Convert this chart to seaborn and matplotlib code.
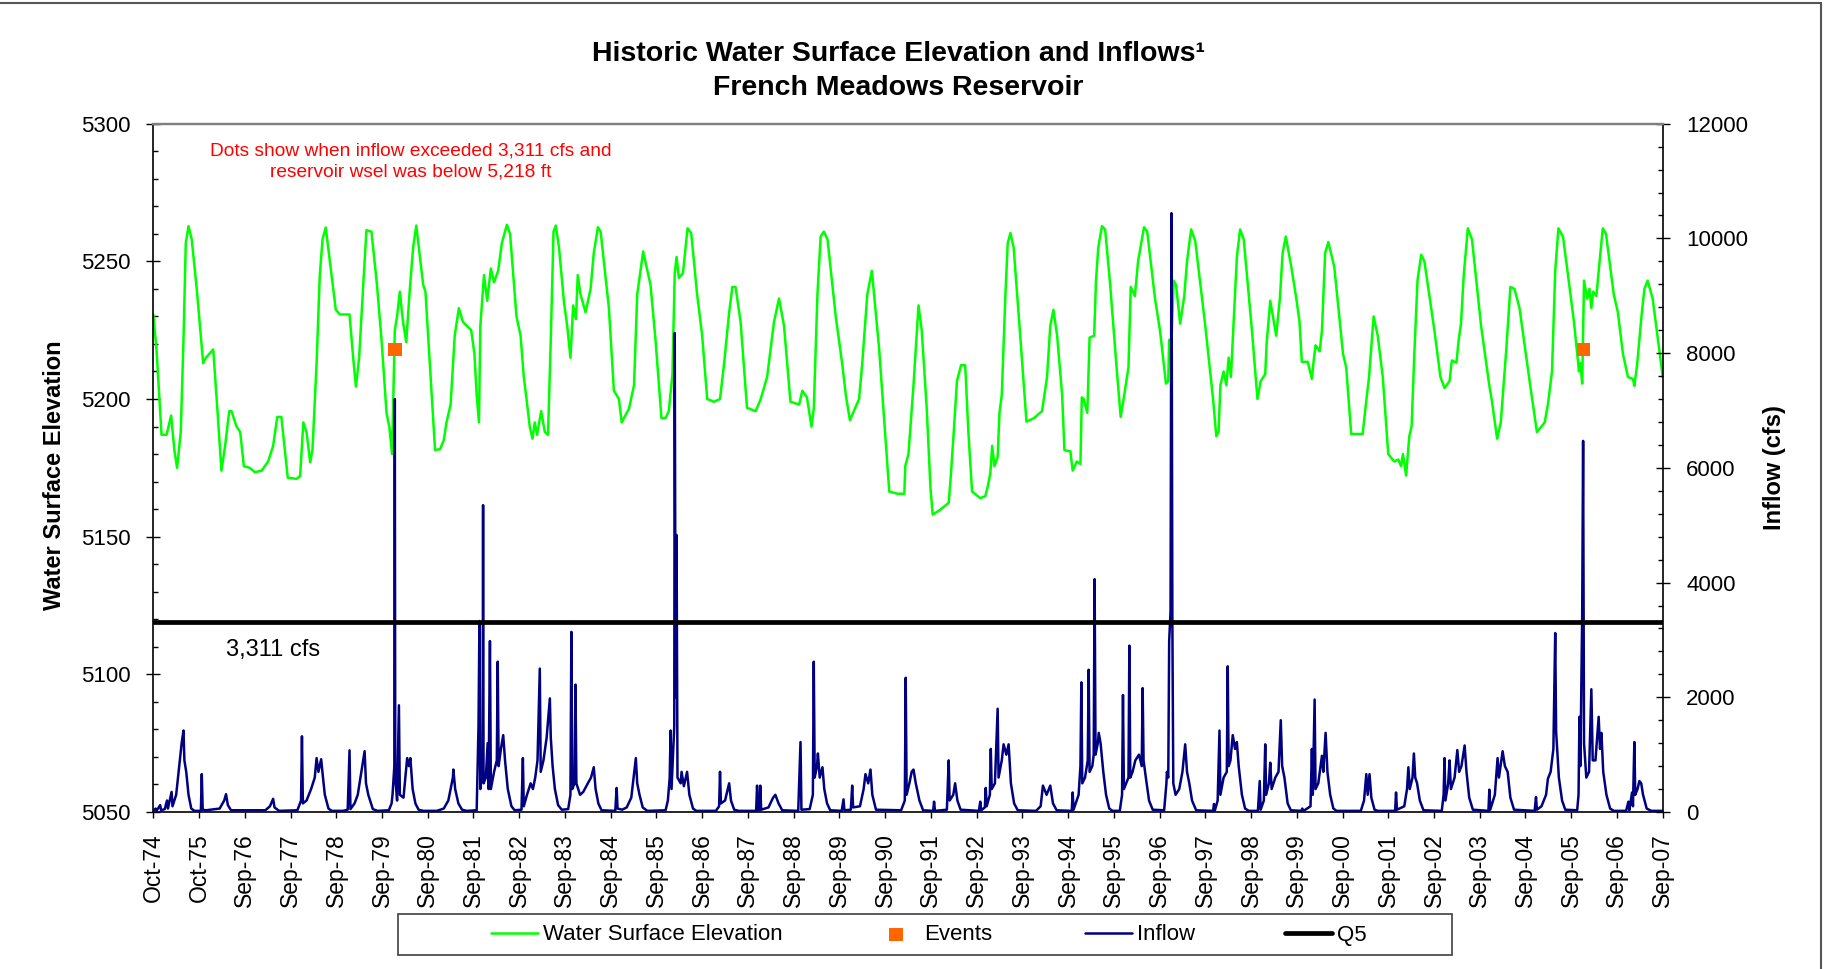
import numpy as np
import pandas as pd
import matplotlib
matplotlib.use("Agg")
import matplotlib.pyplot as plt
import matplotlib.ticker as mticker
from matplotlib.patches import Rectangle
import seaborn as sns

# water surface elevation (ft); x is decimal year on the Excel axis
wse_year = [
    1974.75, 1974.82, 1974.93, 1975.04, 1975.14, 1975.21, 1975.27, 1975.35, 1975.41, 1975.46,
    1975.52, 1975.59, 1975.70, 1975.84, 1975.90, 1976.06, 1976.15, 1976.24, 1976.32, 1976.41,
    1976.46, 1976.57, 1976.65, 1976.73, 1976.86, 1976.97, 1977.12, 1977.26, 1977.37, 1977.46,
    1977.55, 1977.69, 1977.88, 1977.96, 1978.03, 1978.10, 1978.18, 1978.23, 1978.32, 1978.39,
    1978.45, 1978.52, 1978.61, 1978.74, 1978.83, 1979.04, 1979.12, 1979.18, 1979.25, 1979.34,
    1979.41, 1979.52, 1979.64, 1979.74, 1979.85, 1979.91, 1979.97, 1980.03, 1980.08, 1980.14,
    1980.21, 1980.28, 1980.35, 1980.43, 1980.50, 1980.58, 1980.65, 1980.70, 1980.80, 1980.91,
    1981.02, 1981.10, 1981.16, 1981.25, 1981.34, 1981.43, 1981.52, 1981.70, 1981.77, 1981.82,
    1981.87, 1981.90, 1981.98, 1982.05, 1982.13, 1982.20, 1982.29, 1982.37, 1982.48, 1982.55,
    1982.69, 1982.78, 1982.85, 1982.91, 1982.98, 1983.04, 1983.09, 1983.14, 1983.23, 1983.31,
    1983.38, 1983.44, 1983.50, 1983.55, 1983.62, 1983.73, 1983.80, 1983.87, 1983.93, 1983.99,
    1984.03, 1984.09, 1984.20, 1984.31, 1984.38, 1984.47, 1984.53, 1984.71, 1984.82, 1984.93,
    1984.99, 1985.15, 1985.26, 1985.33, 1985.46, 1985.62, 1985.73, 1985.86, 1985.95, 1986.02,
    1986.10, 1986.15, 1986.19, 1986.24, 1986.33, 1986.43, 1986.51, 1986.64, 1986.75, 1986.86,
    1987.01, 1987.14, 1987.23, 1987.34, 1987.41, 1987.48, 1987.59, 1987.73, 1987.92, 1988.03,
    1988.17, 1988.32, 1988.43, 1988.54, 1988.68, 1988.87, 1988.94, 1989.04, 1989.14, 1989.19,
    1989.27, 1989.34, 1989.41, 1989.49, 1989.67, 1989.81, 1989.89, 1989.98, 1990.18, 1990.25,
    1990.36, 1990.46, 1990.62, 1990.76, 1990.84, 1991.02, 1991.17, 1991.19, 1991.26, 1991.37,
    1991.48, 1991.55, 1991.66, 1991.74, 1991.79, 1991.95, 1992.14, 1992.19, 1992.25, 1992.32,
    1992.41, 1992.50, 1992.57, 1992.65, 1992.83, 1992.94, 1992.99, 1993.05, 1993.09, 1993.14,
    1993.21, 1993.25, 1993.30, 1993.38, 1993.43, 1993.49, 1993.56, 1993.71, 1993.84, 1994.00,
    1994.18, 1994.29, 1994.36, 1994.43, 1994.51, 1994.62, 1994.67, 1994.80, 1994.85, 1994.94,
    1995.02, 1995.05, 1995.09, 1995.17, 1995.22, 1995.32, 1995.36, 1995.41, 1995.49, 1995.56,
    1995.67, 1995.81, 1995.90, 1995.97, 1996.07, 1996.12, 1996.21, 1996.28, 1996.41, 1996.48,
    1996.65, 1996.76, 1996.89, 1996.94, 1996.96, 1997.01, 1997.06, 1997.11, 1997.20, 1997.29,
    1997.35, 1997.44, 1997.53, 1997.75, 1997.92, 1997.99, 1998.04, 1998.08, 1998.15, 1998.21,
    1998.26, 1998.31, 1998.37, 1998.44, 1998.51, 1998.59, 1998.77, 1998.89, 1998.96, 1999.06,
    1999.09, 1999.17, 1999.30, 1999.38, 1999.44, 1999.51, 1999.63, 1999.74, 1999.81, 1999.86,
    1999.99, 2000.08, 2000.12, 2000.16, 2000.25, 2000.30, 2000.37, 2000.44, 2000.57, 2000.76,
    2000.83, 2000.94, 2001.19, 2001.26, 2001.33, 2001.43, 2001.52, 2001.63, 2001.75, 2001.88,
    2001.97, 2002.03, 2002.07, 2002.14, 2002.21, 2002.26, 2002.32, 2002.39, 2002.47, 2002.54,
    2002.76, 2002.89, 2002.98, 2003.09, 2003.14, 2003.24, 2003.29, 2003.34, 2003.40, 2003.49,
    2003.58, 2003.78, 2003.96, 2004.01, 2004.13, 2004.21, 2004.33, 2004.42, 2004.51, 2004.62,
    2004.84, 2005.00, 2005.17, 2005.24, 2005.33, 2005.40, 2005.47, 2005.57, 2005.68, 2005.81,
    2005.92, 2005.95, 2005.99, 2006.03, 2006.10, 2006.15, 2006.19, 2006.23, 2006.30, 2006.37,
    2006.44, 2006.51, 2006.68, 2006.77, 2006.88, 2006.99, 2007.10, 2007.13, 2007.19, 2007.28,
    2007.35, 2007.42, 2007.53, 2007.68, 2007.75,
]
wse_ft = [
    5230.7, 5218.0, 5187.0, 5187.0, 5194.0, 5181.5, 5175.0, 5188.0, 5221.5, 5256.6,
    5262.8, 5258.0, 5240.0, 5213.0, 5215.0, 5218.0, 5196.5, 5174.0, 5183.0, 5195.6,
    5195.6, 5190.0, 5188.0, 5175.6, 5175.0, 5173.4, 5174.0, 5177.3, 5183.0, 5193.5,
    5193.5, 5171.4, 5171.0, 5172.0, 5191.5, 5188.0, 5177.0, 5181.5, 5213.0, 5245.0,
    5258.0, 5262.3, 5250.0, 5232.4, 5230.7, 5230.7, 5215.0, 5204.5, 5215.0, 5241.5,
    5261.3, 5260.8, 5241.5, 5221.5, 5194.8, 5190.0, 5180.0, 5225.0, 5230.0, 5239.0,
    5228.0, 5220.7, 5238.0, 5255.0, 5263.0, 5251.6, 5241.5, 5239.0, 5211.5, 5181.5,
    5181.8, 5185.0, 5191.5, 5198.0, 5223.0, 5233.0, 5228.0, 5225.0, 5216.5, 5201.5,
    5191.5, 5226.5, 5245.0, 5235.7, 5247.4, 5242.4, 5246.6, 5256.6, 5263.3, 5260.0,
    5230.0, 5223.0, 5208.0, 5200.0, 5190.0, 5185.6, 5191.5, 5187.0, 5195.6, 5188.0,
    5187.0, 5221.5, 5260.8, 5263.0, 5255.0, 5235.0, 5226.5, 5215.0, 5234.0, 5229.0,
    5245.0, 5238.0, 5231.5, 5240.0, 5253.0, 5262.4, 5260.8, 5233.2, 5203.0, 5200.0,
    5191.5, 5196.5, 5205.0, 5238.0, 5253.6, 5241.5, 5221.5, 5193.0, 5193.1, 5195.6,
    5209.0, 5245.7, 5251.6, 5244.0, 5245.7, 5262.0, 5260.3, 5238.0, 5223.0, 5200.0,
    5199.0, 5200.0, 5213.0, 5231.5, 5240.7, 5240.7, 5228.0, 5196.8, 5195.6, 5200.0,
    5208.0, 5228.0, 5236.5, 5226.5, 5199.0, 5198.0, 5203.0, 5200.6, 5190.0, 5196.5,
    5238.0, 5259.0, 5260.8, 5258.0, 5230.0, 5213.0, 5201.5, 5192.3, 5200.0, 5213.0,
    5238.0, 5246.6, 5218.0, 5184.8, 5166.4, 5165.6, 5165.6, 5175.6, 5180.0, 5205.0,
    5234.0, 5225.0, 5196.5, 5168.0, 5158.0, 5159.7, 5162.3, 5173.0, 5188.0, 5206.5,
    5212.3, 5212.3, 5188.0, 5166.4, 5164.0, 5164.7, 5168.0, 5173.0, 5183.0, 5175.6,
    5179.0, 5195.0, 5201.5, 5238.0, 5256.6, 5260.3, 5255.0, 5221.5, 5191.8, 5193.0,
    5195.6, 5208.0, 5226.5, 5232.4, 5223.0, 5201.5, 5181.4, 5181.0, 5174.0, 5177.3,
    5176.4, 5200.6, 5200.0, 5195.0, 5222.3, 5223.0, 5243.0, 5255.0, 5262.8, 5261.6,
    5241.5, 5211.5, 5193.5, 5200.6, 5211.5, 5240.7, 5237.4, 5250.0, 5262.4, 5260.8,
    5236.5, 5224.8, 5205.6, 5206.5, 5221.5, 5221.5, 5243.0, 5241.5, 5227.4, 5237.4,
    5250.0, 5261.6, 5257.4, 5226.5, 5200.0, 5186.5, 5188.0, 5205.0, 5210.0, 5205.0,
    5215.0, 5208.0, 5228.0, 5251.6, 5261.6, 5258.0, 5224.8, 5200.0, 5206.5, 5209.0,
    5220.0, 5235.7, 5223.0, 5236.5, 5253.0, 5259.0, 5248.0, 5236.5, 5228.0, 5213.5,
    5213.5, 5207.3, 5214.0, 5219.5, 5217.3, 5224.8, 5253.0, 5257.0, 5248.0, 5216.5,
    5211.5, 5187.3, 5187.3, 5198.0, 5208.0, 5230.0, 5223.0, 5208.0, 5180.0, 5177.3,
    5178.0, 5175.6, 5180.0, 5172.2, 5186.5, 5190.0, 5216.5, 5243.2, 5252.4, 5250.0,
    5224.8, 5208.0, 5204.0, 5206.5, 5214.0, 5213.2, 5221.5, 5227.4, 5245.0, 5262.0,
    5258.0, 5226.5, 5204.8, 5200.0, 5185.6, 5191.5, 5218.0, 5240.7, 5240.0, 5233.0,
    5206.5, 5188.0, 5191.5, 5198.0, 5210.0, 5246.6, 5262.0, 5259.0, 5245.0, 5228.0,
    5210.0, 5213.0, 5205.6, 5243.0, 5236.5, 5240.0, 5233.0, 5239.0, 5237.4, 5250.0,
    5262.0, 5260.0, 5238.0, 5231.5, 5216.5, 5208.0, 5207.3, 5204.8, 5212.3, 5229.0,
    5240.0, 5243.0, 5236.5, 5217.3, 5208.0,
]

# inflow (cfs), peaks and low points
inflow_year = [
    1974.75, 1974.80, 1974.82, 1974.90, 1974.92, 1975.00, 1975.05, 1975.07, 1975.15, 1975.17,
    1975.25, 1975.33, 1975.37, 1975.41, 1975.43, 1975.47, 1975.52, 1975.58, 1975.65, 1975.79,
    1975.81, 1975.83, 1975.90, 1976.20, 1976.30, 1976.34, 1976.38, 1976.45, 1977.20, 1977.30,
    1977.37, 1977.40, 1977.50, 1977.90, 1977.98, 1978.00, 1978.02, 1978.10, 1978.20, 1978.28,
    1978.32, 1978.36, 1978.42, 1978.46, 1978.50, 1978.58, 1978.65, 1978.90, 1979.00, 1979.04,
    1979.06, 1979.15, 1979.22, 1979.30, 1979.37, 1979.40, 1979.45, 1979.55, 1979.65, 1979.90,
    1979.96, 1979.98, 1980.02, 1980.03, 1980.04, 1980.08, 1980.12, 1980.14, 1980.22, 1980.30,
    1980.34, 1980.37, 1980.42, 1980.48, 1980.55, 1980.65, 1980.95, 1981.10, 1981.20, 1981.30,
    1981.31, 1981.35, 1981.42, 1981.50, 1981.60, 1981.82, 1981.86, 1981.88, 1981.90, 1981.95,
    1981.96, 1981.97, 1982.02, 1982.06, 1982.08, 1982.11, 1982.13, 1982.20, 1982.26, 1982.28,
    1982.30, 1982.35, 1982.40, 1982.44, 1982.50, 1982.58, 1982.65, 1982.80, 1982.83, 1982.85,
    1982.92, 1983.00, 1983.05, 1983.10, 1983.15, 1983.20, 1983.22, 1983.28, 1983.35, 1983.42,
    1983.44, 1983.48, 1983.53, 1983.60, 1983.68, 1983.82, 1983.87, 1983.89, 1983.91, 1983.96,
    1983.98, 1984.00, 1984.08, 1984.15, 1984.25, 1984.32, 1984.38, 1984.42, 1984.48, 1984.55,
    1984.85, 1984.88, 1984.90, 1985.00, 1985.10, 1985.20, 1985.30, 1985.33, 1985.38, 1985.45,
    1985.55, 1985.95, 1986.00, 1986.04, 1986.06, 1986.08, 1986.14, 1986.15, 1986.17, 1986.19,
    1986.21, 1986.28, 1986.30, 1986.35, 1986.42, 1986.47, 1986.55, 1986.62, 1987.05, 1987.12,
    1987.14, 1987.16, 1987.25, 1987.34, 1987.38, 1987.45, 1987.55, 1987.93, 1987.95, 1987.97,
    1988.00, 1988.02, 1988.04, 1988.20, 1988.30, 1988.35, 1988.42, 1988.50, 1988.85, 1988.90,
    1988.92, 1989.10, 1989.17, 1989.19, 1989.21, 1989.26, 1989.28, 1989.32, 1989.38, 1989.42,
    1989.48, 1989.55, 1989.80, 1989.84, 1989.86, 1990.00, 1990.03, 1990.05, 1990.20, 1990.28,
    1990.32, 1990.38, 1990.43, 1990.47, 1990.55, 1991.10, 1991.18, 1991.20, 1991.22, 1991.28,
    1991.33, 1991.37, 1991.42, 1991.50, 1991.58, 1991.80, 1991.82, 1991.84, 1992.10, 1992.14,
    1992.16, 1992.24, 1992.28, 1992.33, 1992.40, 1992.80, 1992.83, 1992.85, 1992.93, 1992.95,
    1992.97, 1993.04, 1993.06, 1993.08, 1993.15, 1993.21, 1993.23, 1993.30, 1993.34, 1993.40,
    1993.45, 1993.50, 1993.57, 1993.65, 1994.05, 1994.15, 1994.20, 1994.28, 1994.36, 1994.42,
    1994.50, 1994.83, 1994.85, 1994.87, 1994.98, 1995.02, 1995.04, 1995.06, 1995.12, 1995.18,
    1995.20, 1995.22, 1995.28, 1995.31, 1995.33, 1995.35, 1995.40, 1995.42, 1995.46, 1995.52,
    1995.58, 1995.65, 1995.72, 1995.88, 1995.93, 1995.95, 1995.97, 1996.02, 1996.07, 1996.09,
    1996.11, 1996.16, 1996.22, 1996.30, 1996.36, 1996.38, 1996.40, 1996.45, 1996.52, 1996.60,
    1996.85, 1996.90, 1996.91, 1996.94, 1996.96, 1996.99, 1997.01, 1997.03, 1997.05, 1997.10,
    1997.18, 1997.25, 1997.31, 1997.35, 1997.40, 1997.46, 1997.55, 1997.92, 1997.94, 1997.96,
    1998.02, 1998.06, 1998.08, 1998.15, 1998.22, 1998.24, 1998.26, 1998.30, 1998.35, 1998.40,
    1998.44, 1998.48, 1998.55, 1998.62, 1998.70, 1998.90, 1998.94, 1998.96, 1999.03, 1999.06,
    1999.08, 1999.14, 1999.17, 1999.20, 1999.28, 1999.35, 1999.40, 1999.43, 1999.48, 1999.55,
    1999.62, 1999.85, 1999.87, 1999.90, 2000.05, 2000.08, 2000.10, 2000.14, 2000.16, 2000.22,
    2000.30, 2000.33, 2000.38, 2000.42, 2000.48, 2000.55, 2000.62, 2001.15, 2001.22, 2001.27,
    2001.30, 2001.34, 2001.38, 2001.45, 2001.52, 2001.90, 2001.92, 2001.94, 2002.10, 2002.16,
    2002.19, 2002.22, 2002.28, 2002.31, 2002.34, 2002.38, 2002.44, 2002.52, 2002.92, 2002.96,
    2002.98, 2003.00, 2003.06, 2003.09, 2003.12, 2003.20, 2003.26, 2003.30, 2003.35, 2003.42,
    2003.46, 2003.52, 2003.60, 2003.94, 2003.96, 2003.98, 2004.08, 2004.14, 2004.17, 2004.25,
    2004.30, 2004.36, 2004.42, 2004.50, 2004.95, 2004.98, 2005.00, 2005.10, 2005.20, 2005.24,
    2005.30, 2005.36, 2005.40, 2005.42, 2005.44, 2005.48, 2005.55, 2005.62, 2005.88, 2005.91,
    2005.93, 2005.95, 2005.99, 2006.01, 2006.03, 2006.08, 2006.14, 2006.19, 2006.22, 2006.28,
    2006.35, 2006.38, 2006.41, 2006.45, 2006.52, 2006.60, 2006.68, 2006.95, 2007.00, 2007.02,
    2007.08, 2007.10, 2007.13, 2007.15, 2007.20, 2007.24, 2007.28, 2007.32, 2007.40, 2007.50,
    2007.75,
]
inflow_cfs = [
    20, 60, 20, 120, 30, 50, 200, 60, 350, 100,
    300, 900, 1200, 1420, 900, 700, 300, 60, 20, 20,
    660, 40, 30, 60, 200, 310, 120, 30, 30, 100,
    230, 80, 20, 30, 200, 1320, 150, 200, 400, 600,
    940, 700, 920, 600, 300, 60, 20, 20, 40, 1075,
    50, 150, 300, 700, 1060, 500, 300, 50, 20, 30,
    150, 300, 800, 7200, 600, 200, 1860, 300, 250, 940,
    800, 940, 400, 150, 40, 20, 20, 60, 200, 600,
    740, 400, 150, 40, 20, 30, 1500, 3330, 400, 800,
    5350, 500, 600, 1200, 400, 2980, 400, 700, 900, 2620,
    800, 1100, 1340, 900, 400, 100, 30, 40, 940, 100,
    300, 500, 400, 600, 900, 2500, 700, 900, 1300, 1980,
    1300, 800, 400, 120, 40, 50, 300, 3140, 400, 500,
    2220, 500, 300, 350, 500, 600, 780, 400, 150, 30,
    20, 420, 60, 40, 80, 250, 940, 500, 300, 80,
    20, 30, 200, 600, 1420, 400, 1500, 8350, 2000, 4830,
    600, 500, 700, 450, 700, 300, 60, 20, 20, 100,
    700, 150, 200, 500, 200, 40, 20, 20, 460, 30,
    30, 460, 40, 80, 250, 300, 150, 30, 20, 1220,
    40, 50, 300, 2620, 600, 800, 1020, 600, 780, 400,
    150, 30, 20, 220, 30, 40, 460, 80, 100, 400,
    660, 500, 740, 300, 40, 30, 200, 2340, 300, 500,
    700, 740, 500, 200, 30, 20, 180, 20, 40, 900,
    200, 300, 500, 200, 40, 20, 180, 30, 80, 420,
    100, 300, 1100, 400, 500, 1800, 600, 900, 1180, 1000,
    1180, 500, 150, 30, 20, 100, 460, 300, 460, 150,
    30, 20, 340, 40, 300, 800, 2260, 500, 600, 900,
    2480, 700, 800, 1000, 4060, 1000, 1200, 1380, 1200, 700,
    300, 60, 20, 20, 300, 2040, 400, 500, 600, 2900,
    600, 700, 900, 1000, 800, 2160, 900, 600, 200, 40,
    30, 500, 700, 600, 2980, 3500, 10440, 3300, 500, 300,
    400, 700, 1180, 700, 500, 200, 30, 20, 140, 30,
    200, 1420, 300, 600, 700, 2540, 800, 900, 1340, 1100,
    1220, 800, 300, 60, 20, 20, 540, 40, 200, 1180,
    300, 500, 860, 400, 600, 700, 1600, 800, 600, 150,
    30, 20, 60, 20, 100, 1100, 300, 1960, 400, 500,
    980, 700, 1380, 700, 300, 60, 20, 20, 200, 660,
    300, 660, 250, 40, 20, 20, 340, 40, 100, 400,
    780, 400, 600, 1020, 600, 500, 200, 30, 20, 300,
    940, 200, 500, 900, 400, 600, 1080, 700, 800, 1160,
    700, 250, 40, 20, 390, 40, 300, 940, 600, 1060,
    800, 700, 250, 40, 20, 260, 40, 100, 300, 580,
    700, 1100, 3120, 1400, 1140, 600, 200, 40, 30, 300,
    1660, 800, 3460, 6470, 1200, 600, 700, 2140, 900, 900,
    1660, 1100, 1380, 700, 300, 60, 20, 20, 180, 30,
    340, 100, 1220, 300, 400, 540, 500, 300, 60, 20,
    20,
]

event_year = [1980.03, 2006.02]
event_ft = [5218, 5218]
q5_cfs = 3311

START = pd.Timestamp("1974-10-01")


def to_date(years):
    # the Excel axis steps 365 days per labelled tick, starting 1-Oct-1974
    return START + pd.to_timedelta((np.asarray(years) - 1974.75) * 365, unit="D")


wse = pd.DataFrame({"date": to_date(wse_year), "ft": wse_ft})
flow = pd.DataFrame({"date": to_date(inflow_year), "cfs": inflow_cfs})
events = pd.DataFrame({"date": to_date(event_year), "ft": event_ft})
ticks = [START + pd.Timedelta(days=365 * k) for k in range(34)]
tick_labels = [t.strftime("%b-%y") for t in ticks]

sns.set_style("ticks", {"axes.edgecolor": "black", "text.color": "black",
                        "axes.labelcolor": "black", "xtick.color": "black",
                        "ytick.color": "black"})
plt.rcParams["font.family"] = ["Liberation Sans", "DejaVu Sans"]

W, H = 1826, 969
fig = plt.figure(figsize=(W / 100, H / 100), dpi=100)
ax = fig.add_axes([153.3 / W, 1 - 812 / H, (1662.7 - 153.3) / W, (812 - 123.7) / H])
ax2 = ax.twinx()

sns.lineplot(data=wse, x="date", y="ft", ax=ax, color="#00FF00", linewidth=1.8,
             estimator=None, sort=False, legend=False)
sns.scatterplot(data=events, x="date", y="ft", ax=ax, marker="s", s=95,
                color="#FF6600", edgecolor="none", zorder=5, legend=False)
sns.lineplot(data=flow, x="date", y="cfs", ax=ax2, color="#000080", linewidth=1.8,
             estimator=None, sort=False, legend=False)
q5_line = ax2.axhline(q5_cfs, color="black", linewidth=3.4)

ax.set_xlim(ticks[0], ticks[-1])
ax.set_ylim(5050, 5300)
ax2.set_ylim(0, 12000)
ax.set_xticks(ticks)
ax.set_xticklabels(tick_labels, rotation=90)
ax.yaxis.set_major_locator(mticker.MultipleLocator(50))
ax.yaxis.set_minor_locator(mticker.MultipleLocator(10))
ax2.yaxis.set_major_locator(mticker.MultipleLocator(2000))
ax2.yaxis.set_minor_locator(mticker.MultipleLocator(400))
ax.xaxis.set_minor_locator(mticker.NullLocator())

ax.tick_params(axis="x", direction="out", length=4.3, width=1, labelsize=16.5, pad=11)
ax.tick_params(axis="y", which="major", direction="inout", length=10, width=1,
               labelsize=16, pad=11.3)
ax.tick_params(axis="y", which="minor", direction="in", length=3.6, width=1)
ax2.tick_params(axis="y", which="major", direction="inout", length=10, width=1,
                labelsize=16, pad=11.8)
ax2.tick_params(axis="y", which="minor", direction="in", length=3.6, width=1)

for a in (ax, ax2):
    a.spines["top"].set_color("#808080")
    a.spines["top"].set_linewidth(1.6)
ax.spines["left"].set_linewidth(1.2)
ax.spines["bottom"].set_linewidth(1.2)
ax.spines["right"].set_visible(False)
ax2.spines["right"].set_linewidth(1.2)
ax2.spines["left"].set_visible(False)
ax2.spines["bottom"].set_visible(False)

ax.set_xlabel("")
ax.set_ylabel("Water Surface Elevation", fontsize=17, fontweight="bold")
ax.yaxis.set_label_coords(-0.0578, 0.49)
ax2.set_ylabel("Inflow (cfs)", fontsize=17, fontweight="bold")
ax2.yaxis.set_label_coords(1.0664, 0.5)

ax.text(0.0482, 0.236, "3,311 cfs", transform=ax.transAxes, fontsize=17,
        ha="left", va="center")
ax.text(0.1704, 0.9445, "Dots show when inflow exceeded 3,311 cfs and\n"
        "reservoir wsel was below 5,218 ft", transform=ax.transAxes,
        fontsize=13.8, color="#FF0000", ha="center", va="center", linespacing=1.3)

fig.text(898 / W, 1 - 71 / H, "Historic Water Surface Elevation and Inflows\u00b9\n"
         "French Meadows Reservoir", fontsize=20.5, fontweight="bold",
         ha="center", va="center", linespacing=1.38)

# legend: one entry per call so each sits where Excel put it
handles = [ax.lines[0], ax.collections[0], ax2.lines[0], q5_line]
labels = ["Water Surface Elevation", "Events", "Inflow", "Q5"]
starts = [491, 872.5, 1085, 1285]
for h, lab, x0 in zip(handles, labels, starts):
    fig.legend([h], [lab], loc="center left", bbox_to_anchor=(x0 / W, 1 - 935 / H),
               frameon=False, fontsize=16, handlelength=2.1, handletextpad=0.22,
               borderpad=0, borderaxespad=0)
fig.patches.append(Rectangle((397.5 / W, 1 - 955 / H), (1452 - 397.5) / W, 41 / H,
                             transform=fig.transFigure, fill=False,
                             edgecolor="#404040", linewidth=1.2))
fig.patches.append(Rectangle((-0.01, -0.01), 1821 / W + 0.01, 1 - 3 / H + 0.01,
                             transform=fig.transFigure, fill=False,
                             edgecolor="#555555", linewidth=1.5))

fig.savefig("out.png", dpi=100)
